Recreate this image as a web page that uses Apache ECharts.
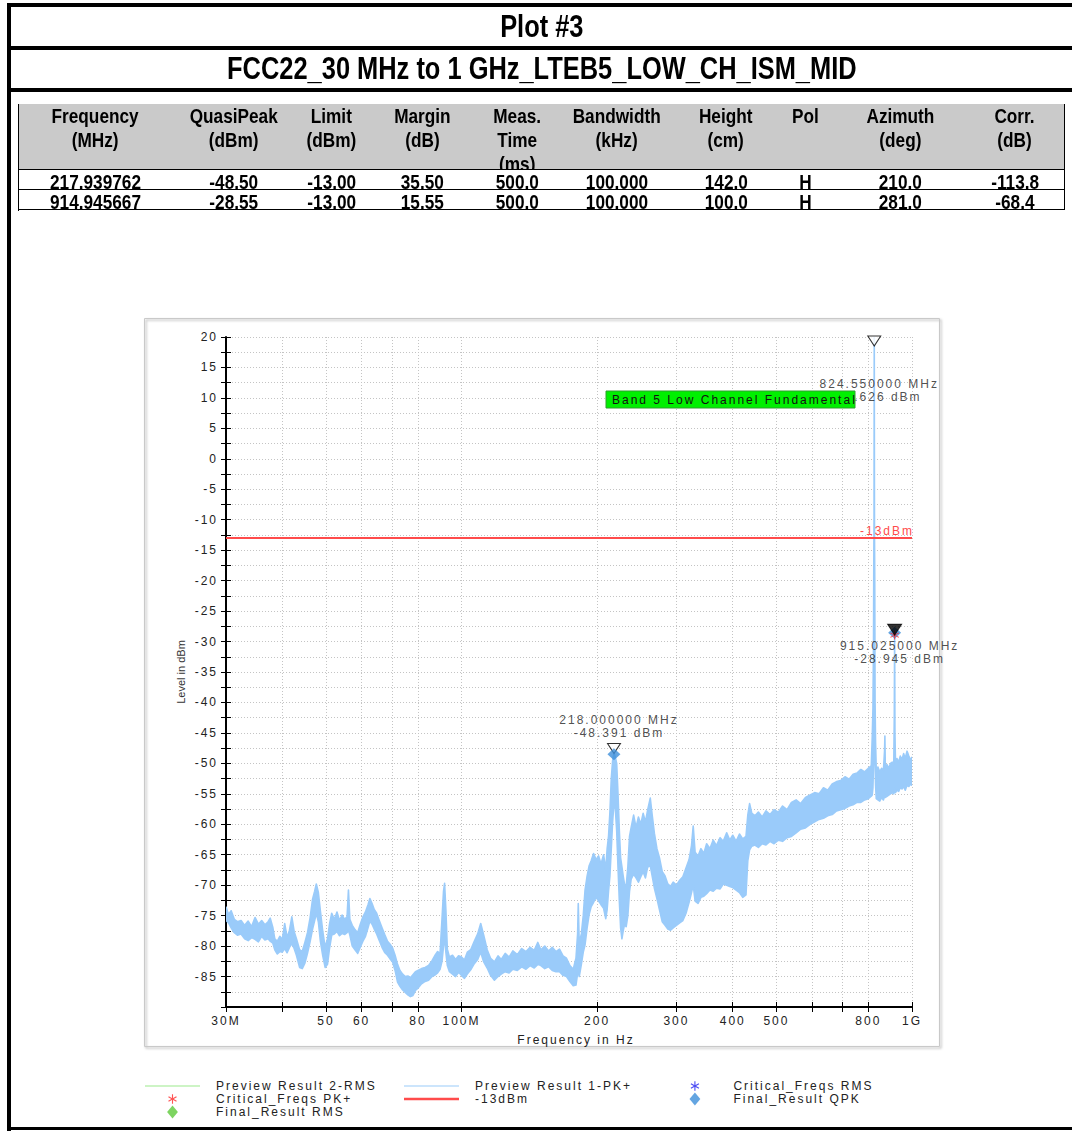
<!DOCTYPE html>
<html>
<head>
<meta charset="utf-8">
<script src="https://cdn.jsdelivr.net/npm/echarts@6/dist/echarts.min.js"></script>
<style>
  html, body { margin: 0; padding: 0; background: #fff; }
  #page { position: relative; width: 1072px; height: 1131px; overflow: hidden; font-family: "Liberation Sans", Arial, sans-serif; }
  .bar { position: absolute; background: #000; }
  .cell { position: absolute; box-sizing: border-box; text-align: center; overflow: hidden; font-weight: bold; color: #000;
          border-right: 1px solid #000; border-bottom: 1px solid #000; }
  .cell span, .title span { display: inline-block; transform: scaleX(0.82); white-space: nowrap; }
  .title { position: absolute; left: 11px; width: 1061px; text-align: center; font-weight: bold; font-size: 31px; }
  #chart { position: absolute; left: 0; top: 0; width: 1072px; height: 1131px; }
  /* EMC32 style spaced labels; texts using the sans-serif fallback stay unspaced */
  #chart text { letter-spacing: 2px; }
  #chart text[style*="sans-serif"] { letter-spacing: 0; }
</style>
</head>
<body>
<div id="page">
  <div class="bar" style="left:7px;top:3px;width:4px;height:1128px"></div>
  <div class="bar" style="left:7px;top:3px;width:1065px;height:4px"></div>
  <div class="bar" style="left:7px;top:46px;width:1065px;height:4px"></div>
  <div class="bar" style="left:7px;top:88px;width:1065px;height:4px"></div>
  <div class="bar" style="left:7px;top:1127px;width:1065px;height:3px"></div>
  <div class="title" style="top:7px;height:39px;line-height:39px"><span id="plotTitle"></span></div>
  <div class="title" style="top:50px;height:38px;line-height:38px"><span id="plotSub"></span></div>
  <div id="table"></div>
  <div id="chart"></div>
</div>
<script>
// header + result table
const plotTitle = 'Plot #3';
const plotSubtitle = 'FCC22_30 MHz to 1 GHz_LTEB5_LOW_CH_ISM_MID';
const tableHeader = [['Frequency', '(MHz)'], ['QuasiPeak', '(dBm)'], ['Limit', '(dBm)'], ['Margin', '(dB)'],
  ['Meas.', 'Time', '(ms)'], ['Bandwidth', '(kHz)'], ['Height', '(cm)'], ['Pol'], ['Azimuth', '(deg)'], ['Corr.', '(dB)']];
const tableRows = [
  ['217.939762', '-48.50', '-13.00', '35.50', '500.0', '100.000', '142.0', 'H', '210.0', '-113.8'],
  ['914.945667', '-28.55', '-13.00', '15.55', '500.0', '100.000', '100.0', 'H', '281.0', '-68.4']
];

// spectrum (Preview Result 1-PK+), MHz / dBm, upper and lower edge of the noisy trace
const traceFreq = [30.0, 30.4, 30.8, 31.3, 31.8, 32.4, 33.0, 33.6, 34.2, 34.8, 35.4, 36.0, 36.6, 37.2, 37.6, 38.1, 38.5, 39.0, 39.5, 40.0,
  40.5, 41.0, 41.5, 42.0, 42.5, 43.0, 43.7, 44.3, 44.9, 45.5, 46.1, 46.7, 47.2, 47.6, 48.1, 48.6, 49.2, 49.8, 50.4, 50.9,
  51.5, 52.2, 52.9, 53.6, 54.3, 55.0, 55.7, 56.1, 56.5, 57.2, 58.0, 58.8, 59.6, 60.4, 61.2, 62.0, 62.6, 63.3, 64.0, 64.8,
  65.6, 66.6, 67.6, 68.5, 69.4, 70.3, 71.2, 72.1, 73.0, 74.0, 75.0, 76.0, 77.0, 78.0, 79.0, 80.0, 81.5, 83.0, 84.5, 86.0,
  87.5, 88.5, 89.6, 90.5, 91.2, 91.7, 92.3, 93.0, 94.0, 95.5, 97.0, 98.5, 100.0, 101.5, 103.0, 104.8, 106.5, 108.6, 110.3, 112.0,
  114.0, 116.0, 118.3, 120.5, 122.5, 125.0, 127.5, 130.0, 133.0, 136.0, 139.0, 142.0, 145.0, 147.7, 150.0, 153.0, 156.0, 159.0, 162.0, 165.0,
  168.0, 171.0, 174.0, 177.0, 179.5, 181.0, 181.6, 182.5, 184.5, 186.3, 188.0, 190.0, 192.0, 194.0, 196.4, 199.0, 201.5, 204.0, 206.7, 209.0,
  210.5, 212.0, 213.5, 215.0, 216.5, 218.0, 219.5, 221.0, 222.5, 224.0, 225.5, 227.0, 228.5, 230.0, 232.0, 234.0, 236.0, 238.0, 241.0, 244.0,
  247.0, 250.0, 253.0, 256.0, 259.0, 262.4, 265.0, 268.0, 271.5, 275.0, 279.0, 283.0, 287.0, 291.0, 295.0, 300.0, 305.0, 310.0, 315.0, 320.0,
  324.0, 326.8, 330.0, 335.0, 340.0, 345.0, 350.0, 356.0, 362.0, 368.0, 375.0, 381.0, 387.8, 394.0, 400.0, 407.0, 414.0, 421.0, 428.0, 432.0,
  436.0, 441.0, 448.0, 456.0, 465.0, 474.0, 484.0, 494.0, 505.0, 516.0, 528.0, 540.0, 553.0, 566.0, 580.0, 594.0, 608.0, 622.0, 636.0, 650.0,
  665.0, 680.0, 695.0, 710.0, 725.0, 740.0, 755.0, 770.0, 785.0, 800.0, 812.0, 816.0, 819.0, 821.5, 822.5, 823.6, 824.55, 825.5, 826.5, 828.0,
  830.0, 833.0, 840.0, 848.0, 856.0, 864.0, 869.0, 870.6, 872.5, 880.0, 888.0, 896.0, 904.0, 911.0, 913.5, 915.0, 916.5, 919.0, 926.0, 934.0,
  942.0, 950.0, 958.0, 966.0, 975.0, 984.0, 992.0, 1000.0];
const traceHi = [-73.6, -74.8, -74.2, -75.6, -76.0, -75.8, -76.6, -75.9, -76.8, -75.3, -76.4, -75.8, -76.5, -76.0, -75.4, -76.9, -78.8, -79.2, -78.4, -78.9,
  -76.3, -78.6, -77.4, -75.2, -77.6, -78.8, -80.6, -80.9, -79.4, -77.8, -75.4, -72.3, -71.0, -69.8, -71.2, -74.2, -77.6, -80.2, -78.8, -76.5,
  -74.6, -75.6, -74.4, -75.8, -74.9, -75.6, -75.2, -70.8, -75.6, -76.6, -77.3, -77.8, -76.4, -75.2, -74.4, -73.2, -72.2, -73.0, -74.0, -74.6,
  -75.7, -77.0, -78.2, -79.2, -79.7, -80.3, -81.5, -83.0, -84.0, -84.6, -85.0, -84.9, -85.2, -84.7, -84.2, -84.0, -83.7, -83.5, -83.2, -82.4,
  -81.4, -80.9, -81.2, -75.5, -71.0, -69.7, -74.0, -80.5, -81.8, -81.5, -82.2, -81.6, -81.8, -82.3, -81.0, -80.6, -79.4, -78.0, -76.3, -78.2,
  -80.6, -82.0, -82.6, -81.6, -82.2, -81.2, -81.8, -80.8, -81.4, -80.4, -80.9, -80.2, -80.7, -79.4, -80.6, -80.0, -80.8, -80.2, -80.9, -80.5,
  -81.6, -82.0, -83.2, -83.8, -82.0, -78.0, -73.0, -79.5, -78.0, -75.0, -70.8, -68.5, -66.8, -66.0, -64.8, -65.8, -65.2, -66.5, -65.0, -67.5,
  -64.0, -62.0, -58.0, -52.5, -49.5, -48.4, -49.0, -50.0, -55.0, -61.0, -65.5, -67.0, -68.5, -69.8, -70.2, -67.0, -62.0, -60.5, -58.5, -60.5,
  -58.8, -60.0, -58.2, -59.6, -57.6, -55.7, -58.5, -61.5, -64.0, -65.5, -67.8, -68.5, -69.8, -70.2, -69.5, -70.0, -69.2, -68.6, -67.2, -65.8,
  -63.5, -60.3, -64.6, -65.2, -64.0, -64.8, -63.2, -64.0, -62.6, -63.5, -62.2, -62.8, -61.4, -62.6, -61.8, -62.8, -61.6, -62.4, -62.0, -58.5,
  -56.6, -58.2, -58.6, -58.0, -58.8, -57.8, -58.4, -57.6, -58.0, -57.0, -57.6, -56.4, -56.0, -56.6, -55.6, -55.2, -54.8, -55.0, -54.0, -54.4,
  -53.4, -53.0, -52.8, -52.2, -52.6, -51.8, -51.6, -51.0, -51.4, -50.8, -50.4, -45.8, -41.0, -30.0, -18.0, -10.0, 22.626, -12.0, -19.0, -40.0,
  -46.5, -51.0, -50.6, -51.4, -50.8, -51.2, -48.0, -45.5, -50.6, -50.2, -50.8, -50.0, -49.8, -50.2, -42.0, -28.9, -45.0, -49.6, -49.2, -49.8,
  -48.8, -49.4, -48.4, -49.2, -48.0, -48.8, -49.4, -49.0];
const traceLo = [-75.8, -76.2, -77.0, -77.8, -78.2, -78.0, -78.8, -79.1, -78.6, -78.9, -79.3, -78.4, -79.0, -78.8, -79.2, -79.5, -80.6, -81.3, -80.9, -81.0,
  -80.4, -81.1, -80.2, -79.6, -80.4, -81.5, -83.5, -83.7, -82.8, -81.2, -79.3, -77.2, -75.8, -74.6, -76.0, -79.2, -81.6, -83.5, -83.0, -80.5,
  -78.2, -78.0, -77.6, -78.3, -77.9, -78.1, -77.8, -77.4, -78.2, -80.0, -80.6, -81.2, -80.2, -79.2, -78.4, -77.0, -75.9, -76.4, -77.2, -78.0,
  -79.0, -80.2, -81.1, -81.5, -82.1, -82.6, -84.0, -85.9, -86.6, -87.2, -87.6, -88.0, -88.3, -88.1, -87.3, -86.9, -86.2, -85.8, -85.6, -85.0,
  -84.7, -84.4, -83.8, -82.5, -80.0, -78.5, -81.0, -83.2, -84.2, -84.6, -85.0, -84.3, -84.8, -85.3, -84.6, -83.9, -83.0, -82.2, -81.0, -82.6,
  -83.6, -84.8, -85.6, -85.0, -84.6, -84.2, -84.4, -83.8, -84.0, -83.4, -83.8, -83.2, -83.6, -83.0, -83.2, -83.7, -83.4, -84.0, -84.2, -84.2,
  -84.8, -85.0, -85.8, -86.5, -86.4, -84.5, -84.0, -85.0, -83.0, -81.0, -79.8, -77.0, -74.8, -73.5, -72.8, -72.0, -72.6, -73.2, -73.8, -75.5,
  -74.0, -71.0, -68.5, -64.0, -59.5, -56.5, -57.5, -61.0, -67.0, -72.5, -77.0, -78.8, -77.5, -76.5, -76.8, -75.0, -71.0, -69.0, -68.2, -68.8,
  -69.5, -68.6, -67.8, -68.8, -67.0, -66.8, -68.5, -70.5, -72.2, -74.0, -76.0, -76.6, -77.2, -77.4, -77.0, -76.6, -76.2, -75.8, -74.6, -72.8,
  -71.2, -70.0, -72.6, -73.0, -72.0, -71.8, -71.4, -70.8, -71.0, -70.5, -70.6, -69.8, -70.0, -70.2, -70.4, -70.8, -71.2, -72.0, -71.6, -66.0,
  -64.2, -63.6, -63.4, -63.8, -63.2, -63.4, -62.8, -63.2, -62.6, -62.8, -62.2, -62.0, -61.4, -60.8, -60.6, -60.0, -59.6, -59.2, -59.0, -58.6,
  -58.4, -57.8, -57.6, -57.4, -57.0, -56.8, -56.4, -56.4, -56.0, -55.8, -55.4, -55.2, -54.0, -50.0, -46.0, -45.0, -44.0, -45.0, -46.0, -50.0,
  -53.5, -55.8, -56.0, -56.2, -55.6, -56.0, -55.4, -55.0, -55.6, -55.4, -55.2, -55.0, -54.8, -55.0, -54.5, -54.0, -54.6, -54.8, -54.4, -54.6,
  -54.0, -54.2, -53.8, -54.4, -53.6, -53.8, -53.4, -53.6];

// limit line
const limitFreq = [30, 1000];
const limitLevel = [-13, -13];
const limitName = '-13dBm';

// markers from the preview scan
const markerFreq = [218.0, 824.55, 915.025];
const markerLevel = [-48.391, 22.626, -28.945];

// critical frequencies and final QPK results
const critPkFreq = [915.025];
const critPkLevel = [-28.945];
const qpkFreq = [217.939762, 914.945667];
const qpkLevel = [-48.50, -28.55];

const annotationText = 'Band 5 Low Channel Fundamental';

// axes
const yMin = -90, yMax = 20, yStep = 2.5;
const fMin = 30, fMax = 1000;
const tickFreqs = [30, 40, 50, 60, 70, 80, 100, 200, 300, 400, 500, 600, 700, 800, 1000];
const labelFreqs = [30, 50, 60, 80, 100, 200, 300, 400, 500, 800, 1000];
const labelNames = { 30: '30M', 100: '100M', 1000: '1G' };

// ---------- header table ----------
document.getElementById('plotTitle').textContent = plotTitle;
document.getElementById('plotSub').textContent = plotSubtitle;

const colEdges = [19, 171, 296, 367, 477, 557, 676, 776, 835, 966, 1064];
const tbl = document.getElementById('table');
function addCell(x0, x1, y0, h, lines, bg) {
  const d = document.createElement('div');
  d.className = 'cell';
  d.style.cssText = `left:${x0}px;top:${y0}px;width:${x1 - x0 + 1}px;height:${h + 1}px;` +
    `font-size:21px;line-height:24px;background:${bg}`;
  const s = document.createElement('span');
  s.innerHTML = lines.join('<br>');
  d.appendChild(s);
  tbl.appendChild(d);
}
const frame = document.createElement('div');
frame.style.cssText = 'position:absolute;left:18px;top:104px;width:1046px;height:107px;border-left:1px solid #000;border-top:1px solid #000;box-sizing:border-box';
tbl.appendChild(frame);
tableHeader.forEach((h, i) => addCell(colEdges[i], colEdges[i + 1], 104, 65, h, '#CACACA'));
tableRows.forEach((r, j) => r.forEach((v, i) => addCell(colEdges[i], colEdges[i + 1], 170 + j * 20, 19, [v], '#fff')));

// ---------- chart ----------
const FONT = 'Liberation Sans';
const lg = Math.log10;
const LINE_ICON = 'path://M0,0L55,0L55,1.2L0,1.2Z';
const LIMIT_ICON = 'path://M0,0L55,0L55,2.6L0,2.6Z';
const ASTERISK = 'path://M4.4,0L5.6,0L5.6,10L4.4,10Z M0.37,3.02L0.97,1.98L9.63,6.98L9.03,8.02Z M9.03,1.98L9.63,3.02L0.97,8.02L0.37,6.98Z';
// same star with a taller (invisible) bounding box, so the legend keeps it small
const ASTERISK_ICON = ASTERISK + ' M5,-2L5.01,-2L5.01,-1.99Z M5,12L5.01,12L5.01,12.01Z';
const DIAMOND = 'path://M5,0L10,6L5,12L0,6Z';
const TRIANGLE = 'path://M0,0L14,0L7,10Z';
const TRACE_COLOR = '#9ACBFA';
const LIMIT_COLOR = '#FF4B4B';

const chart = echarts.init(document.getElementById('chart'), null, { renderer: 'svg' });

function markerItem(i) {
  const txt = markerFreq[i].toFixed(6) + ' MHz\n' + markerLevel[i].toFixed(3) + ' dBm';
  const item = { value: [lg(markerFreq[i]), Math.min(markerLevel[i], yMax)] };
  if (markerLevel[i] > yMax) {
    item.symbolOffset = [0, 4];
    item.label = { show: true, position: 'bottom', distance: 31, offset: [5, 0], formatter: txt };
  } else if (i === 2) {
    item.label = { show: true, position: 'bottom', distance: 4, offset: [5, 0], formatter: txt };
  } else {
    item.label = { show: true, position: 'top', distance: 4, offset: [5, 0], formatter: txt };
  }
  return item;
}
const activeMarker = 2;

const option = {
  animation: false,
  textStyle: { fontFamily: FONT },
  grid: { left: 226, top: 337, right: 160, bottom: 124, containLabel: false },
  graphic: [
    { type: 'rect', z: -10, shape: { x: 144.5, y: 318.5, width: 795, height: 728 },
      style: { fill: 'none', stroke: '#C9C9C9', lineWidth: 1, shadowBlur: 2, shadowOffsetX: 1.5, shadowOffsetY: 1.5, shadowColor: 'rgba(0,0,0,0.35)' } },
    { type: 'rect', z: 100, shape: { x: 606, y: 391, width: 249, height: 17 },
      style: { fill: '#00F000', stroke: '#2E9E2E', lineWidth: 1 } },
    { type: 'text', z: 101, x: 612, y: 399.5,
      style: { text: annotationText, font: '12px "Liberation Sans"', fill: '#111', textVerticalAlign: 'middle' } }
  ],
  legend: [
    { left: 145, data: [{ name: 'Preview Result 2-RMS', icon: LINE_ICON }, { name: 'Critical_Freqs PK+', icon: ASTERISK_ICON }, 'Final_Result RMS'] },
    { left: 404, data: [{ name: 'Preview Result 1-PK+', icon: LINE_ICON }, { name: limitName, icon: LIMIT_ICON }] },
    { left: 689.5, textPad: 6, data: [{ name: 'Critical_Freqs RMS', icon: ASTERISK_ICON }, 'Final_Result QPK'] }
  ].map(l => ({
    left: l.left, top: 1079.5, orient: 'vertical', padding: 0, itemWidth: 55, itemHeight: 13, itemGap: 0,
    selectedMode: false, data: l.data,
    textStyle: { fontFamily: FONT, fontSize: 12, color: '#222', lineHeight: 13, padding: [0, 0, 0, l.textPad || 11] }
  })),
  xAxis: [
    {
      type: 'value', min: lg(fMin), max: lg(fMax),
      name: 'Frequency in Hz', nameLocation: 'middle', nameGap: 27,
      nameTextStyle: { fontFamily: FONT, fontSize: 12, color: '#222', padding: [0, 0, 0, 14] },
      axisLine: { onZero: false, lineStyle: { color: '#000', width: 2 } },
      axisTick: { length: 5, customValues: tickFreqs.map(lg), lineStyle: { color: '#000' } },
      axisLabel: { margin: 8, fontSize: 12, color: '#222', fontFamily: FONT, customValues: labelFreqs.map(lg),
        formatter: v => { const f = Math.round(Math.pow(10, v)); return labelNames[f] || String(f); } },
      splitLine: { show: true, lineStyle: { color: '#C4C4C4', type: [1, 2] } }
    },
    {
      type: 'value', min: lg(fMin), max: lg(fMax), position: 'bottom',
      axisLine: { show: false, onZero: false }, axisLabel: { show: false }, splitLine: { show: false },
      axisTick: { inside: true, length: 5, customValues: tickFreqs.map(lg), lineStyle: { color: '#000' } }
    }
  ],
  yAxis: [
    {
      type: 'value', min: yMin, max: yMax, interval: yStep,
      name: 'Level in dBm', nameLocation: 'middle', nameGap: 40, nameRotate: 90,
      nameTextStyle: { fontFamily: FONT + ', sans-serif', fontSize: 11, color: '#333' },
      axisLine: { show: true, onZero: false, lineStyle: { color: '#000', width: 2 } },
      axisTick: { show: true, length: 5, lineStyle: { color: '#000' } },
      axisLabel: { margin: 8, fontSize: 12, color: '#222', fontFamily: FONT,
        formatter: v => (v % 5 === 0 && v > yMin) ? String(v) : '' },
      splitLine: { show: true, lineStyle: { color: '#C4C4C4', type: [1, 2] } }
    },
    {
      type: 'value', min: yMin, max: yMax, interval: yStep, position: 'left',
      axisLine: { show: false, onZero: false }, axisLabel: { show: false }, splitLine: { show: false },
      axisTick: { show: true, inside: true, length: 5, lineStyle: { color: '#000' } }
    }
  ],
  series: [
    {
      name: 'Preview Result 2-RMS', type: 'line', symbol: 'none', data: [],
      itemStyle: { color: '#9BEA8C' }, lineStyle: { color: '#9BEA8C', width: 1 }
    },
    {
      name: 'Preview Result 1-PK+', type: 'custom', z: 2, silent: true,
      itemStyle: { color: TRACE_COLOR },
      data: [[lg(traceFreq[0]), traceHi[0]]],
      renderItem: (params, api) => {
        const pts = [];
        for (let i = 0; i < traceFreq.length; i++) pts.push(api.coord([lg(traceFreq[i]), traceHi[i]]));
        for (let i = traceFreq.length - 1; i >= 0; i--) pts.push(api.coord([lg(traceFreq[i]), traceLo[i]]));
        const cs = params.coordSys;
        return {
          type: 'polygon', shape: { points: pts },
          clipPath: { type: 'rect', shape: { x: cs.x, y: cs.y, width: cs.width, height: cs.height } },
          style: { fill: TRACE_COLOR, stroke: TRACE_COLOR, lineWidth: 1.6, lineJoin: 'round' }
        };
      }
    },
    {
      name: limitName, type: 'line', symbol: 'none', z: 3,
      data: limitFreq.map((f, i) => [lg(f), limitLevel[i]]),
      itemStyle: { color: LIMIT_COLOR }, lineStyle: { color: LIMIT_COLOR, width: 2 },
      endLabel: { show: true, formatter: limitName, color: LIMIT_COLOR, fontSize: 12, fontFamily: FONT, distance: 0, offset: [-52, -7] }
    },
    {
      name: 'markers', type: 'scatter', z: 4, symbol: TRIANGLE, symbolSize: [13, 10], symbolOffset: [0, -5],
      itemStyle: { color: '#fff', borderColor: '#000', borderWidth: 1 },
      label: { fontSize: 12, fontFamily: FONT, color: '#222', lineHeight: 13, align: 'center' },
      data: markerFreq.map((f, i) => i).filter(i => i !== activeMarker).map(markerItem)
    },
    {
      name: 'Final_Result RMS', type: 'scatter', symbol: DIAMOND, symbolSize: [13, 12], data: [],
      itemStyle: { color: '#5CC93A' }
    },
    {
      name: 'Critical_Freqs RMS', type: 'scatter', symbol: ASTERISK, symbolSize: 9, data: [],
      itemStyle: { color: '#2020F0' }
    },
    {
      name: 'Final_Result QPK', type: 'scatter', z: 5, symbol: DIAMOND, symbolSize: [13, 12],
      itemStyle: { color: '#3D8FD9' },
      data: qpkFreq.map((f, i) => [lg(f), qpkLevel[i]])
    },
    {
      name: 'Critical_Freqs PK+', type: 'scatter', z: 6, symbol: ASTERISK, symbolSize: 9,
      itemStyle: { color: '#FF2A2A' },
      data: critPkFreq.map((f, i) => [lg(f), critPkLevel[i]])
    },
    {
      name: 'active marker', type: 'scatter', z: 7, symbol: TRIANGLE, symbolSize: [14, 11], symbolOffset: [0, -5.5],
      itemStyle: { color: '#000', borderColor: '#000', borderWidth: 1 },
      label: { fontSize: 12, fontFamily: FONT, color: '#222', lineHeight: 13, align: 'center' },
      data: [markerItem(activeMarker)]
    }
  ]
};
chart.setOption(option);
</script>
</body>
</html>
